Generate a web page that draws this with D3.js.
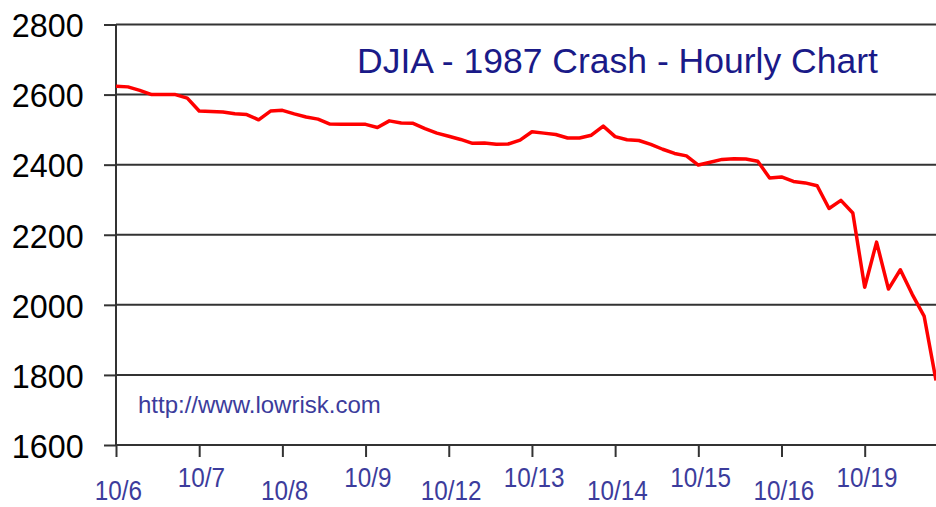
<!DOCTYPE html>
<html>
<head>
<meta charset="utf-8">
<script src="https://cdn.jsdelivr.net/npm/d3@7"></script>
<style>
  body { margin: 0; background: #fff; }
  svg { display: block; }
</style>
</head>
<body>
<div class="chart"></div>
<script>
//DJIA hourly chart around the 1987 crash

//Data: day labels, y tick values and hourly index values (7 readings per day)
var dayLabels = ["10/6", "10/7", "10/8", "10/9", "10/12", "10/13", "10/14", "10/15", "10/16", "10/19"];

var yTicks = [1600, 1800, 2000, 2200, 2400, 2600, 2800];

var hourlyValues = [
    2624, 2622, 2612, 2600, 2600, 2600, 2590,   // 10/6
    2553, 2552, 2550, 2545, 2543, 2528, 2553,   // 10/7
    2555, 2545, 2536, 2530, 2516, 2515, 2515,   // 10/8
    2515, 2506, 2525, 2519, 2518, 2503, 2490,   // 10/9
    2481, 2472, 2461, 2462, 2458, 2459, 2470,   // 10/12
    2494, 2490, 2486, 2476, 2476, 2484, 2510,   // 10/13
    2480, 2471, 2469, 2458, 2444, 2432, 2425,   // 10/14
    2399, 2407, 2415, 2417, 2416, 2410, 2362,   // 10/15
    2365, 2352, 2348, 2340, 2275, 2298, 2262,   // 10/16
    2050, 2179, 2045, 2100, 2030, 1968, 1784    // 10/19
];

var hoursPerDay = 7;

//Size of svg
var svgwidth = 936;
var svgheight = 507;

var plotLeft = 116;
var plotRight = 936;
var plotTop = 24.5;
var plotBottom = 445;

var svg = d3.select(".chart")
            .append("svg")
            .attr("width", svgwidth)
            .attr("height", svgheight);

//Scales
var xLinearScale = d3.scaleLinear()
        .domain([0, hourlyValues.length - 1])
        .range([plotLeft, plotRight]);

var yLinearScale = d3.scaleLinear()
        .domain([1600, 2800])
        .range([plotBottom, plotTop]);

//Horizontal grid lines
svg.append("g")
    .selectAll("line")
    .data(yTicks)
    .enter()
    .append("line")
    .attr("x1", plotLeft)
    .attr("x2", plotRight)
    .attr("y1", d => yLinearScale(d))
    .attr("y2", d => yLinearScale(d))
    .attr("stroke", "#333")
    .attr("stroke-width", 2);

//Vertical axis line
svg.append("line")
    .attr("x1", plotLeft)
    .attr("x2", plotLeft)
    .attr("y1", yLinearScale(2800))
    .attr("y2", yLinearScale(1600))
    .attr("stroke", "#333")
    .attr("stroke-width", 2);

//Left axis
var leftAxis = d3.axisLeft(yLinearScale)
        .tickValues(yTicks)
        .tickSize(12)
        .tickPadding(22)
        .tickFormat(d3.format("d"));

var yAxisGroup = svg.append("g")
        .attr("transform", `translate(${plotLeft}, 0)`)
        .call(leftAxis);

yAxisGroup.select(".domain").remove();
yAxisGroup.selectAll(".tick line")
    .attr("stroke", "#333")
    .attr("stroke-width", 2);
yAxisGroup.selectAll(".tick text")
    .attr("font-family", "Arial, 'Liberation Sans', sans-serif")
    .attr("font-size", "34px")
    .attr("fill", "#000")
    .attr("dy", "0.36em")
    .attr("transform", "scale(0.95, 1)");

//Bottom axis, one tick per trading day
var bottomAxis = d3.axisBottom(xLinearScale)
        .tickValues(d3.range(0, dayLabels.length).map(i => i * hoursPerDay))
        .tickSize(12)
        .tickFormat((d, i) => dayLabels[i]);

var xAxisGroup = svg.append("g")
        .attr("transform", `translate(0, ${plotBottom})`)
        .call(bottomAxis);

xAxisGroup.select(".domain").remove();
xAxisGroup.selectAll(".tick line")
    .attr("stroke", "#333")
    .attr("stroke-width", 2);
xAxisGroup.selectAll(".tick text")
    .attr("font-family", "Arial, 'Liberation Sans', sans-serif")
    .attr("font-size", "27px")
    .attr("fill", "#3c3c9c")
    .attr("dy", 0)
    .attr("x", 2)
    .attr("y", (d, i) => i % 2 === 0 ? 55 : 42)
    .attr("transform", "scale(0.9, 1)");

//Price line
var line = d3.line()
    .x((d, i) => xLinearScale(i))
    .y(d => yLinearScale(d));

svg.append("path")
    .datum(hourlyValues)
    .attr("d", line)
    .attr("fill", "none")
    .attr("stroke", "#ff0000")
    .attr("stroke-width", 3.5)
    .attr("stroke-linejoin", "round");

//Title and source text
svg.append("text")
    .attr("x", 357)
    .attr("y", 73)
    .attr("font-family", "Arial, 'Liberation Sans', sans-serif")
    .attr("font-size", "35.5px")
    .attr("fill", "#1a1a88")
    .text("DJIA - 1987 Crash - Hourly Chart");

svg.append("text")
    .attr("x", 138)
    .attr("y", 413)
    .attr("font-family", "Arial, 'Liberation Sans', sans-serif")
    .attr("font-size", "24px")
    .attr("fill", "#3c3c9c")
    .text("http://www.lowrisk.com");
</script>
</body>
</html>
